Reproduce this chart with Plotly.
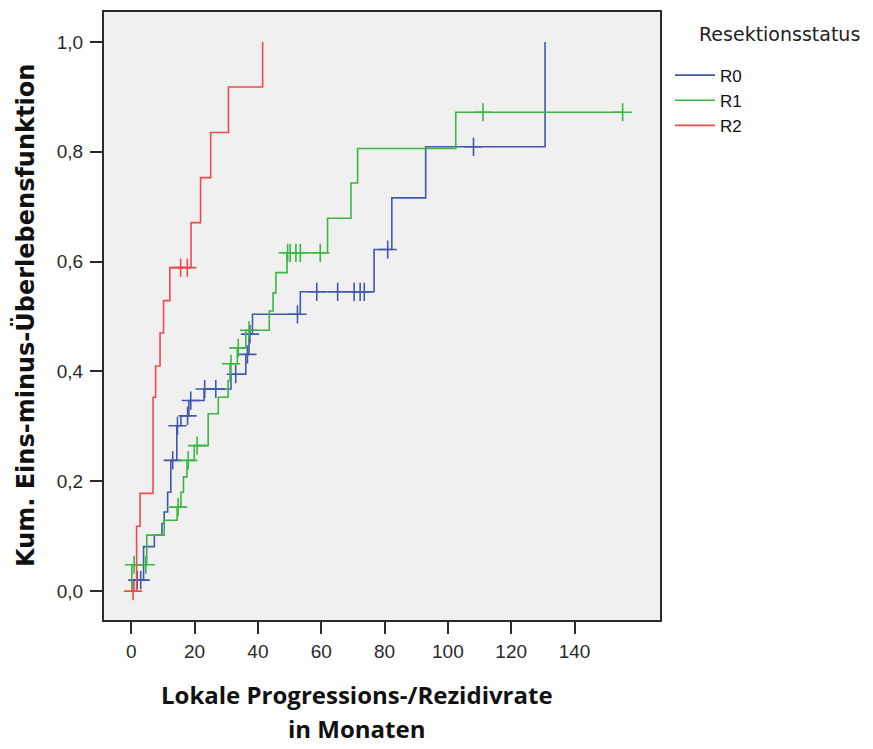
import plotly.graph_objects as go

# ---- data ----
groups = ["R0", "R1", "R2"]

r0_times = [0, 0.8, 3.9, 7.3, 9.7, 10.4, 11.5, 12.5, 14.4, 15.7, 18.2, 23.0, 31.5, 36.2, 37.2, 38.3, 53.4, 76.7, 82.3, 93.0, 130.7]
r0_values = [0, 0.02, 0.081, 0.102, 0.123, 0.144, 0.18, 0.238, 0.301, 0.319, 0.347, 0.368, 0.395, 0.431, 0.468, 0.504, 0.545, 0.622, 0.716, 0.809, 1.0]
r0_censored = [1.9, 3.0, 13.1, 14.6, 17.8, 18.8, 23.2, 26.7, 33.0, 36.7, 37.5, 52.5, 58.6, 65.2, 70.4, 72.3, 73.6, 81.0, 108.1]

r1_times = [0, 0.2, 4.9, 10.4, 14.5, 15.7, 16.5, 17.6, 19.9, 24.3, 27.5, 30.6, 31.2, 33.5, 36.2, 43.6, 44.8, 45.7, 49.2, 62.0, 69.4, 71.5, 102.5]
r1_values = [0, 0.048, 0.102, 0.129, 0.153, 0.18, 0.208, 0.238, 0.265, 0.323, 0.353, 0.383, 0.414, 0.443, 0.475, 0.51, 0.543, 0.58, 0.616, 0.679, 0.743, 0.806, 0.872]
r1_censored = [0.9, 4.6, 14.8, 18.0, 20.8, 31.5, 33.8, 37.2, 49.4, 50.2, 52.0, 53.4, 59.7, 111.1, 155.2]

r2_times = [0, 1.7, 2.8, 6.9, 7.7, 9.1, 10.2, 12.2, 18.9, 21.9, 25.1, 30.7, 41.5]
r2_values = [0, 0.118, 0.178, 0.353, 0.41, 0.47, 0.529, 0.589, 0.671, 0.753, 0.835, 0.918, 1.0]
r2_censored = [0.6, 15.6, 17.7]

x_ticks = [0, 20, 40, 60, 80, 100, 120, 140]
y_ticks = [0.0, 0.2, 0.4, 0.6, 0.8, 1.0]

colors = {"R0": "#4159AD", "R1": "#38B840", "R2": "#F04A4E"}

series = {
    "R0": (r0_times, r0_values, r0_censored),
    "R1": (r1_times, r1_values, r1_censored),
    "R2": (r2_times, r2_values, r2_censored),
}


def level_at(times, values, t):
    v = values[0]
    for ti, vi in zip(times, values):
        if ti <= t:
            v = vi
    return v


fig = go.Figure()
for g in groups:
    times, values, cens = series[g]
    end_t = max([times[-1]] + cens)
    xs = list(times) + [end_t]
    ys = list(values) + [values[-1]]
    fig.add_trace(go.Scatter(
        x=xs, y=ys, mode="lines", line=dict(color=colors[g], width=1.6, shape="hv"),
        name=g, legendgroup=g, showlegend=True, hoverinfo="skip"))
    fig.add_trace(go.Scatter(
        x=cens, y=[level_at(times, values, t) for t in cens], mode="markers",
        marker=dict(symbol="cross-thin", size=13, line=dict(color=colors[g], width=1.6)),
        name=g, legendgroup=g, showlegend=False, hoverinfo="skip"))

fig.update_layout(
    width=873, height=749,
    margin=dict(l=104, r=213, t=10, b=129),
    paper_bgcolor="white",
    plot_bgcolor="#F0F0F0",
    separators=",.",
    font=dict(family="Liberation Sans, Arial, sans-serif", size=19, color="#2a2a2a"),
    showlegend=True,
    legend=dict(
        x=1.018, y=0.925, xanchor="left", yanchor="top",
        bgcolor="rgba(0,0,0,0)",
        font=dict(family="Liberation Sans, Arial, sans-serif", size=17, color="#111111"),
        tracegroupgap=0, itemwidth=40,
    ),
    annotations=[
        dict(text="Resektionsstatus", xref="paper", yref="paper",
             x=1.0665, y=0.963, xanchor="left", yanchor="middle", showarrow=False,
             font=dict(family="DejaVu Sans, sans-serif", size=19, color="#222222")),
        dict(text="<b>Lokale Progressions-/Rezidivrate</b>", xref="paper", yref="paper",
             x=0.455, y=-0.123, xanchor="center", yanchor="middle", showarrow=False,
             font=dict(family="Open Sans, sans-serif", size=24, color="#111111")),
        dict(text="<b>in Monaten</b>", xref="paper", yref="paper",
             x=0.455, y=-0.1787, xanchor="center", yanchor="middle", showarrow=False,
             font=dict(family="Open Sans, sans-serif", size=24, color="#111111")),
        dict(text="<b>Kum. Eins-minus-Überlebensfunktion</b>", xref="paper", yref="paper",
             x=-0.142, y=0.5, xanchor="center", yanchor="middle", textangle=-90, showarrow=False,
             font=dict(family="DejaVu Sans, sans-serif", size=24, color="#111111")),
    ],
)

fig.update_xaxes(
    range=[-8.6, 167.0], tickvals=x_ticks, ticks="outside", ticklen=12, tickwidth=1.6,
    tickcolor="#2a2a2a", showgrid=False, zeroline=False, ticklabelstandoff=1,
    showline=True, linecolor="#2a2a2a", linewidth=2, mirror=True,
)
fig.update_yaxes(
    range=[-0.0526, 1.0545], tickvals=y_ticks, tickformat=".1f", ticks="outside", ticklen=12,
    tickwidth=1.6, tickcolor="#2a2a2a", showgrid=False, zeroline=False, ticklabelstandoff=3,
    showline=True, linecolor="#2a2a2a", linewidth=2, mirror=True,
)

fig.write_html("out.html")
